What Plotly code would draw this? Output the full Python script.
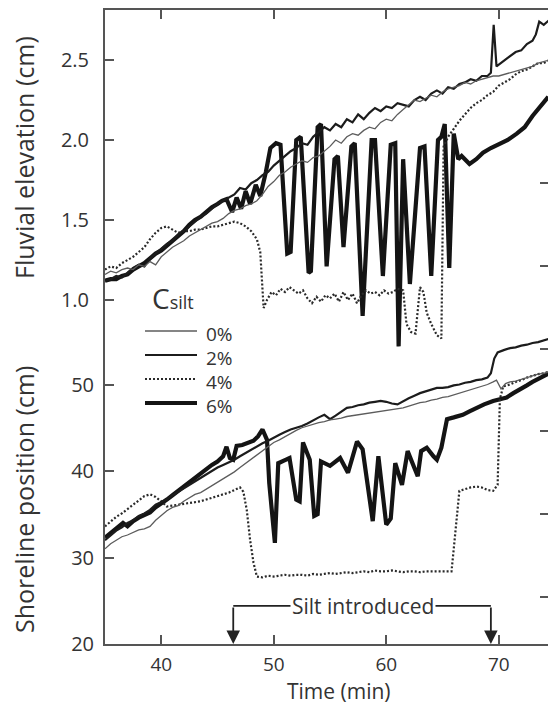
import plotly.graph_objects as go

# ---------------- data ----------------
# Fluvial elevation (cm) vs time (min), by silt concentration
t_elev_0 = [35.0, 35.5, 36.0, 36.5, 37.0, 37.5, 38.0, 38.5, 39.0, 39.5, 40.0, 40.5, 41.0, 41.5, 42.0,
            42.5, 43.0, 43.5, 44.0, 44.5, 45.0, 45.5, 46.0, 46.5, 47.0, 47.5, 48.0, 48.5, 49.0, 49.5,
            50.0, 50.5, 51.0, 51.5, 52.0, 52.5, 53.0, 53.5, 54.0, 54.5, 55.0, 55.5, 56.0, 56.5, 57.0,
            57.5, 58.0, 58.5, 59.0, 59.5, 60.0, 60.5, 61.0, 61.5, 62.0, 62.5, 63.0, 63.5, 64.0, 64.5,
            65.0, 65.5, 66.0, 66.5, 67.0, 67.5, 68.0, 68.5, 69.0, 69.5, 70.0, 70.5, 71.0, 71.5, 72.0,
            72.5, 73.0, 73.5, 74.0, 74.5]
elev_0 = [1.16, 1.18, 1.17, 1.19, 1.20, 1.19, 1.22, 1.21, 1.24, 1.22, 1.27, 1.30, 1.33, 1.35, 1.37,
          1.40, 1.42, 1.44, 1.46, 1.48, 1.49, 1.51, 1.54, 1.56, 1.57, 1.59, 1.60, 1.62, 1.66, 1.71,
          1.74, 1.78, 1.80, 1.83, 1.85, 1.87, 1.86, 1.89, 1.90, 1.93, 1.96, 2.00, 1.98, 2.02, 2.04,
          2.03, 2.06, 2.08, 2.07, 2.11, 2.13, 2.12, 2.16, 2.19, 2.22, 2.25, 2.24, 2.26, 2.28, 2.27,
          2.30, 2.32, 2.33, 2.34, 2.36, 2.35, 2.37, 2.38, 2.39, 2.40, 2.40, 2.41, 2.42, 2.43, 2.44,
          2.45, 2.46, 2.48, 2.49, 2.50]

t_elev_2 = [35.0, 35.5, 36.0, 36.5, 37.0, 37.5, 38.0, 38.5, 39.0, 39.5, 40.0, 40.5, 41.0, 41.5, 42.0,
            42.5, 43.0, 43.5, 44.0, 44.5, 45.0, 45.5, 46.0, 46.5, 47.0, 47.5, 48.0, 48.5, 49.0, 49.5,
            50.0, 50.5, 51.0, 51.5, 52.0, 52.5, 53.0, 53.5, 54.0, 54.5, 55.0, 55.5, 56.0, 56.5, 57.0,
            57.5, 58.0, 58.5, 59.0, 59.5, 60.0, 60.5, 61.0, 61.5, 62.0, 62.5, 63.0, 63.5, 64.0, 64.5,
            65.0, 65.5, 66.0, 66.5, 67.0, 67.5, 68.0, 68.5, 69.0, 69.3, 69.55, 69.8, 70.0, 70.5, 71.0,
            71.5, 72.0, 72.5, 73.0, 73.3, 73.6, 74.0, 74.5]
elev_2 = [1.12, 1.13, 1.15, 1.14, 1.17, 1.20, 1.22, 1.21, 1.26, 1.29, 1.32, 1.35, 1.37, 1.41, 1.43,
          1.46, 1.49, 1.52, 1.54, 1.57, 1.60, 1.62, 1.64, 1.66, 1.70, 1.69, 1.73, 1.75, 1.78, 1.80,
          1.84, 1.87, 1.90, 1.93, 1.95, 1.98, 1.97, 2.02, 2.05, 2.08, 2.06, 2.10, 2.08, 2.13, 2.11,
          2.16, 2.13, 2.17, 2.20, 2.18, 2.21, 2.20, 2.23, 2.22, 2.21, 2.25, 2.27, 2.25, 2.29, 2.31,
          2.29, 2.33, 2.32, 2.35, 2.36, 2.38, 2.37, 2.40, 2.40, 2.42, 2.72, 2.46, 2.47, 2.50, 2.52,
          2.55, 2.56, 2.60, 2.62, 2.66, 2.74, 2.72, 2.75]

t_elev_4 = [35.0, 35.5, 36.0, 36.5, 37.0, 37.5, 38.0, 38.5, 39.0, 39.5, 40.0, 40.5, 41.0, 41.5, 42.0,
            42.5, 43.0, 43.5, 44.0, 44.5, 45.0, 45.5, 46.0, 46.5, 47.0, 47.5, 48.0, 48.5, 48.8, 49.0,
            49.1, 49.4, 49.8, 50.2, 50.6, 51.0, 51.4, 51.8, 52.2, 52.6, 53.0, 53.4, 53.8, 54.2, 54.6,
            55.0, 55.4, 55.8, 56.2, 56.6, 57.0, 57.4, 57.8, 58.2, 58.6, 59.0, 59.4, 59.8, 60.2, 60.6,
            61.0, 61.5, 61.8, 62.2, 62.6, 63.0, 63.3, 63.6, 64.0, 64.5, 64.9, 65.1, 65.5, 66.0, 66.5,
            67.0, 67.5, 68.0, 68.5, 69.0, 69.5, 70.0, 70.5, 71.0, 71.5, 72.0, 72.5, 73.0, 73.5, 74.0,
            74.5]
elev_4 = [1.19, 1.21, 1.20, 1.23, 1.25, 1.27, 1.30, 1.33, 1.38, 1.42, 1.45, 1.46, 1.44, 1.42, 1.43,
          1.43, 1.44, 1.44, 1.45, 1.46, 1.46, 1.47, 1.48, 1.49, 1.48, 1.46, 1.43, 1.38, 1.30, 1.10,
          0.95, 1.00, 1.05, 1.03, 1.07, 1.05, 1.08, 1.06, 1.04, 1.06, 1.01, 0.98, 1.02, 0.99, 1.03,
          1.01, 1.04, 0.99, 1.05, 1.00, 1.04, 0.98, 1.03, 1.06, 1.04, 1.05, 1.03, 1.06, 1.04, 1.05,
          1.07, 1.06, 0.85, 0.80, 0.79, 1.08, 1.05, 0.92, 0.85, 0.78, 0.76, 1.96, 2.02, 2.07, 2.12,
          2.16, 2.20, 2.23, 2.25, 2.28, 2.30, 2.34, 2.36, 2.38, 2.41, 2.43, 2.44, 2.46, 2.48, 2.48,
          2.50]

t_elev_6 = [35.0, 35.5, 36.0, 36.5, 37.0, 37.5, 38.0, 38.5, 39.0, 39.5, 40.0, 40.5, 41.0, 41.5, 42.0,
            42.5, 43.0, 43.5, 44.0, 44.5, 45.0, 45.4, 45.8, 46.3, 46.7, 47.1, 47.5, 47.9, 48.4, 48.8,
            49.3, 49.7, 50.2, 50.6, 51.2, 51.5, 52.0, 52.4, 53.1, 53.3, 53.9, 54.2, 54.7, 55.4, 55.7,
            56.2, 56.9, 57.2, 57.9, 58.7, 59.0, 59.7, 60.4, 60.8, 61.1, 61.5, 62.1, 63.0, 63.4, 64.0,
            64.6, 64.9, 65.2, 65.6, 66.0, 66.4, 66.7, 67.4, 68.0, 68.6, 69.3, 70.1, 70.8, 71.6, 72.3,
            73.0, 73.6, 74.4]
elev_6 = [1.12, 1.13, 1.13, 1.15, 1.16, 1.19, 1.21, 1.23, 1.26, 1.29, 1.31, 1.34, 1.37, 1.40, 1.43,
          1.47, 1.50, 1.52, 1.55, 1.58, 1.60, 1.62, 1.63, 1.55, 1.64, 1.57, 1.68, 1.60, 1.72, 1.65,
          1.80, 1.95, 1.98, 1.97, 1.29, 1.30, 2.00, 2.02, 1.17, 1.18, 2.08, 2.10, 1.21, 1.88, 1.90,
          1.33, 1.96, 1.98, 0.90, 2.00, 2.00, 1.15, 1.97, 1.98, 0.71, 1.88, 1.10, 1.95, 1.96, 1.15,
          2.00, 2.02, 2.10, 1.20, 2.04, 1.88, 1.90, 1.85, 1.88, 1.92, 1.95, 1.98, 2.00, 2.04, 2.08,
          2.15, 2.20, 2.27]

# Shoreline position (cm) vs time (min), by silt concentration
t_shore_0 = [35.0, 35.5, 36.0, 36.5, 37.0, 37.5, 38.0, 38.5, 39.0, 39.5, 40.0, 40.5, 41.0, 41.5, 42.0,
             42.5, 43.0, 43.5, 44.0, 44.5, 45.0, 45.5, 46.0, 46.5, 47.0, 47.5, 48.0, 48.5, 49.0, 49.5,
             50.0, 50.5, 51.0, 51.5, 52.0, 52.5, 53.0, 53.5, 54.0, 54.5, 55.0, 55.5, 56.0, 56.5, 57.0,
             57.5, 58.0, 58.5, 59.0, 59.5, 60.0, 60.5, 61.0, 61.5, 62.0, 62.5, 63.0, 63.5, 64.0, 64.5,
             65.0, 65.5, 66.0, 66.5, 67.0, 67.5, 68.0, 68.5, 69.0, 69.5, 69.8, 70.2, 70.6, 71.0, 71.5,
             72.0, 72.5, 73.0, 73.5, 74.0, 74.5]
shore_0 = [31.0, 31.6, 32.0, 32.4, 32.6, 32.9, 33.2, 33.3, 33.6, 34.3, 34.9, 35.4, 35.8, 36.0, 36.5,
           36.9, 37.3, 37.5, 37.9, 38.3, 38.6, 39.0, 39.5, 39.9, 40.4, 40.9, 41.3, 41.8, 42.3, 42.9,
           43.3, 43.6, 44.0, 44.3, 44.7, 45.0, 45.2, 45.4, 45.6, 45.7, 45.9, 46.0, 46.1, 46.3, 46.4,
           46.5, 46.6, 46.7, 46.8, 46.9, 47.0, 47.1, 47.2, 47.3, 47.5, 47.7, 47.9, 48.0, 48.2, 48.3,
           48.5, 48.6, 48.8, 49.0, 49.2, 49.4, 49.6, 49.8, 50.0, 50.3, 50.5, 49.5, 50.1, 50.3, 50.4,
           50.6, 50.8, 51.0, 51.2, 51.3, 51.5]

t_shore_2 = [35.0, 35.5, 36.0, 36.5, 37.0, 37.5, 38.0, 38.5, 39.0, 39.5, 40.0, 40.5, 41.0, 41.5, 42.0,
             42.5, 43.0, 43.5, 44.0, 44.5, 45.0, 45.5, 46.0, 46.5, 47.0, 47.5, 48.0, 48.5, 49.0, 49.5,
             50.0, 50.5, 51.0, 51.5, 52.0, 52.5, 53.0, 53.5, 54.0, 54.5, 55.0, 55.5, 56.0, 56.5, 57.0,
             57.5, 58.0, 58.5, 59.0, 59.5, 60.0, 60.5, 61.0, 61.5, 62.0, 62.5, 63.0, 63.5, 64.0, 64.5,
             65.0, 65.5, 66.0, 66.5, 67.0, 67.5, 68.0, 68.5, 69.0, 69.3, 69.6, 69.9, 70.5, 71.0, 71.5,
             72.0, 72.5, 73.0, 73.5, 74.0, 74.5]
shore_2 = [32.0, 32.6, 33.1, 33.5, 34.0, 34.3, 34.8, 35.1, 35.5, 36.1, 36.4, 36.7, 37.2, 37.6, 38.1,
           38.4, 38.9, 39.3, 39.7, 40.0, 40.4, 40.7, 41.0, 41.3, 41.7, 42.1, 42.5, 42.9, 43.2, 43.5,
           43.9, 44.2, 44.5, 44.8, 45.0, 45.2, 45.5, 45.9, 46.2, 46.5, 46.0, 46.4, 46.9, 47.3, 47.4,
           47.6, 47.7, 47.9, 48.0, 48.1, 48.0, 47.8, 47.7, 48.1, 48.4, 48.7, 49.0, 49.2, 49.4, 49.6,
           49.6, 49.7, 49.9, 50.0, 50.2, 50.3, 50.5, 50.6, 50.8, 51.3, 53.0, 53.7, 54.0, 54.2, 54.3,
           54.5, 54.6, 54.8, 54.9, 55.1, 55.3]

t_shore_4 = [35.0, 35.5, 36.0, 36.5, 37.0, 37.5, 38.0, 38.5, 39.0, 39.5, 40.0, 40.5, 41.0, 41.5, 42.0,
             42.5, 43.0, 43.5, 44.0, 44.5, 45.0, 45.5, 46.0, 46.5, 47.0, 47.3, 47.6, 47.9, 48.2, 48.5,
             49.0, 49.5, 50.0, 50.5, 51.0, 51.5, 52.0, 52.5, 53.0, 53.5, 54.0, 54.5, 55.0, 55.5, 56.0,
             56.5, 57.0, 57.5, 58.0, 58.5, 59.0, 59.5, 60.0, 60.5, 61.0, 61.5, 62.0, 62.5, 63.0, 63.5,
             64.0, 64.5, 65.0, 65.5, 65.8, 66.0, 66.3, 66.5, 67.0, 67.5, 68.0, 68.5, 69.0, 69.5, 69.9,
             70.0, 70.1, 70.4, 71.0, 71.5, 72.0, 72.5, 73.0, 73.5, 74.0, 74.5]
shore_4 = [33.6, 34.2, 34.7, 35.1, 35.6, 36.2, 36.7, 37.1, 37.3, 37.0, 36.5, 35.9, 36.0, 36.1, 36.2,
           36.3, 36.4, 36.5, 36.7, 36.9, 37.1, 37.3, 37.5, 37.8, 38.1, 37.6, 35.5, 32.0, 29.4, 27.8,
           27.7, 27.9, 27.8, 27.9, 28.0, 27.9, 28.0, 28.0, 27.9, 28.1, 28.0, 28.1, 28.2, 28.1, 28.2,
           28.3, 28.2, 28.3, 28.4, 28.3, 28.5, 28.4, 28.4, 28.5, 28.4, 28.3, 28.4, 28.4, 28.3, 28.4,
           28.4, 28.4, 28.4, 28.4, 28.4, 31.0, 35.0, 37.7, 37.9, 38.1, 38.2, 38.1, 37.8, 37.7, 38.4,
           43.0, 48.3, 49.8, 50.0, 50.3, 50.5, 50.8, 51.0, 51.2, 51.3, 51.5]

t_shore_6 = [35.0, 35.5, 36.0, 36.6, 37.0, 37.5, 38.0, 38.5, 39.0, 39.5, 40.0, 40.5, 41.0, 41.5, 42.0,
             42.5, 43.0, 43.5, 44.0, 44.5, 45.0, 45.5, 45.8, 46.1, 46.4, 46.7, 47.2, 47.7, 48.2, 48.6,
             49.0, 49.4, 49.6, 50.1, 50.4, 50.9, 51.4, 52.0, 52.3, 52.6, 53.2, 53.6, 53.9, 54.2, 55.0,
             55.9, 56.6, 57.4, 57.9, 58.8, 59.3, 60.0, 60.4, 60.8, 61.4, 61.9, 62.8, 63.1, 63.6, 64.2,
             64.5, 64.9, 65.4, 66.0, 66.8, 67.4, 68.0, 68.7, 69.5, 70.1, 70.7, 71.3, 71.9, 72.5, 73.0,
             73.6, 74.0, 74.5]
shore_6 = [32.3, 32.8, 33.3, 34.0, 33.6, 34.2, 34.6, 34.9, 35.2, 35.8, 36.2, 36.7, 37.2, 37.7, 38.2,
           38.7, 39.3, 39.8, 40.3, 40.7, 41.1, 41.7, 42.8, 41.5, 41.3, 42.9, 43.0, 43.3, 43.5, 44.0,
           44.8, 43.6, 38.6, 31.7, 40.9, 41.2, 41.5, 36.7, 36.5, 43.3, 41.3, 34.8, 35.0, 41.1, 40.6,
           41.5, 39.8, 43.4, 42.5, 34.2, 41.7, 33.8, 34.5, 40.9, 38.4, 42.3, 39.4, 42.3, 42.7, 41.7,
           41.3, 42.7, 46.0, 46.2, 46.5, 46.9, 47.3, 47.7, 48.1, 48.3, 48.5, 49.0, 49.4, 49.9, 50.3,
           50.7, 51.0, 51.3]

# period during which silt was fed, and label height on the shoreline scale
silt_on = 46.4
silt_off = 69.3
silt_label_level = 24.4

legend_labels = ["0%", "2%", "4%", "6%"]
x_ticks = [40, 50, 60, 70]
elev_ticks = [1.0, 1.5, 2.0, 2.5]
shore_ticks = [20, 30, 40, 50]
right_ticks = [0, 1, 2, 3, 4, 5]

# ---------------- styling ----------------
FONT = "Open Sans"
AX = "#555555"
TXT = "#333333"
styles = {
    "0%": dict(color="#5c5c5c", width=1.3),
    "2%": dict(color="#1c1c1c", width=2.2),
    "4%": dict(color="#2a2a2a", width=2.2, dash="2px,2px"),
    "6%": dict(color="#141414", width=4.2),
}

elev = {"0%": (t_elev_0, elev_0), "2%": (t_elev_2, elev_2),
        "4%": (t_elev_4, elev_4), "6%": (t_elev_6, elev_6)}
shore = {"0%": (t_shore_0, shore_0), "2%": (t_shore_2, shore_2),
         "4%": (t_shore_4, shore_4), "6%": (t_shore_6, shore_6)}

fig = go.Figure()
draw_order = ["6%", "4%", "2%", "0%"]
for lab in draw_order:
    t, v = elev[lab]
    fig.add_trace(go.Scatter(x=t, y=v, mode="lines", name=lab, legendgroup=lab,
                             showlegend=False, line=styles[lab], yaxis="y"))
for lab in draw_order:
    t, v = shore[lab]
    fig.add_trace(go.Scatter(x=t, y=v, mode="lines", name=lab, legendgroup=lab,
                             showlegend=False, line=styles[lab], yaxis="y2"))
# carrier for the right-hand tick axis
fig.add_trace(go.Scatter(x=[], y=[], yaxis="y3", showlegend=False, hoverinfo="skip"))

W, H = 548, 705
ML, MR, MT, MB = 105, 0, 10, 61
plot_w = W - ML - MR
plot_h = H - MT - MB


def px_x(px):
    """paper x for a horizontal pixel position"""
    return (px - ML) / plot_w


def px_y(py):
    """paper y for a vertical pixel position (from top)"""
    return (H - MB - py) / plot_h


# pixels per unit on each vertical scale
elev_ppu = 160.0
shore_ppu = 8.65
right_ppu = 82.8

tickfont = dict(family=FONT, size=20, color=TXT)

# top scale: 1.0 sits 344 px above the bottom of the frame
elev_lo = 1.0 - 344 / elev_ppu
elev_hi = elev_lo + plot_h / elev_ppu
shore_lo = 20.0
shore_hi = shore_lo + plot_h / shore_ppu
right_lo = -47 / right_ppu
right_hi = right_lo + plot_h / right_ppu

x_lo = 35.0
x_hi = 35.0 + plot_w / 11.25

fig.update_layout(
    width=W, height=H,
    margin=dict(l=ML, r=MR, t=MT, b=MB, pad=0),
    paper_bgcolor="white", plot_bgcolor="white",
    font=dict(family=FONT, color=TXT),
    showlegend=False,
    xaxis=dict(
        range=[x_lo, x_hi], tickvals=x_ticks, ticks="inside", ticklen=9, tickwidth=2,
        tickcolor=AX, showline=True, linewidth=2, linecolor=AX, mirror="ticks",
        showgrid=False, zeroline=False, tickfont=dict(family=FONT, size=19, color=TXT),
        ticklabelstandoff=2,
    ),
    yaxis=dict(
        range=[elev_lo, elev_hi], tickvals=elev_ticks, tickformat=".1f",
        ticks="inside", ticklen=9, tickwidth=2, tickcolor=AX,
        showline=True, linewidth=2, linecolor=AX, showgrid=False, zeroline=False,
        tickfont=tickfont, ticklabelstandoff=10,
    ),
    yaxis2=dict(
        range=[shore_lo, shore_hi], tickvals=shore_ticks, overlaying="y", side="left",
        ticks="inside", ticklen=9, tickwidth=2, tickcolor=AX,
        showline=False, showgrid=False, zeroline=False,
        tickfont=tickfont, ticklabelstandoff=10,
    ),
    yaxis3=dict(
        range=[right_lo, right_hi], tickvals=right_ticks, overlaying="y", side="right",
        ticks="inside", ticklen=8, tickwidth=2, tickcolor=AX,
        showticklabels=False, showline=False, showgrid=False, zeroline=False,
    ),
)

title_font = dict(family=FONT, size=25, color=TXT)
fig.add_annotation(text="Fluvial elevation (cm)", textangle=-90, xref="paper", yref="paper",
                   x=px_x(24), y=px_y(158), showarrow=False, font=title_font,
                   xanchor="center", yanchor="middle")
fig.add_annotation(text="Shoreline position (cm)", textangle=-90, xref="paper", yref="paper",
                   x=px_x(24), y=px_y(500), showarrow=False, font=title_font,
                   xanchor="center", yanchor="middle")
fig.add_annotation(text="Time (min)", xref="paper", yref="paper",
                   x=px_x(339), y=px_y(691), showarrow=False,
                   font=dict(family=FONT, size=21, color=TXT),
                   xanchor="center", yanchor="middle", borderpad=0)

# key: concentration of silt, one sample line per series
fig.add_annotation(text="C<span style='font-size:18px'>silt</span>", xref="paper", yref="paper",
                   x=px_x(151), y=px_y(318), xanchor="left", yanchor="bottom",
                   showarrow=False, font=dict(family=FONT, size=28, color=TXT), borderpad=0)
key_rows = [331, 355, 379, 403]
for lab, row in zip(legend_labels, key_rows):
    fig.add_shape(type="line", xref="paper", yref="paper",
                  x0=px_x(145), x1=px_x(197), y0=px_y(row), y1=px_y(row), line=styles[lab])
    fig.add_annotation(text=lab, xref="paper", yref="paper", x=px_x(205), y=px_y(row + 3),
                       xanchor="left", yanchor="middle", showarrow=False,
                       font=dict(family=FONT, size=19, color=TXT), borderpad=0)

# "Silt introduced" bracket with arrows at the start and end of silt feed
fig.add_shape(type="line", xref="x", yref="y2", x0=silt_on, x1=silt_off,
              y0=silt_label_level, y1=silt_label_level, line=dict(color="#222", width=1.8))
for tx in (silt_on, silt_off):
    fig.add_annotation(x=tx, y=shore_lo, xref="x", yref="y2", ax=tx, ay=silt_label_level,
                       axref="x", ayref="y2", showarrow=True, arrowhead=2, arrowsize=1.5,
                       arrowwidth=1.8, arrowcolor="#222", text="", standoff=0)
fig.add_annotation(text="Silt introduced", x=(silt_on + silt_off) / 2 + 0.05, y=silt_label_level,
                   xref="x", yref="y2", showarrow=False, bgcolor="white",
                   font=dict(family=FONT, size=21, color=TXT), borderpad=1)

fig.write_html("out.html")
